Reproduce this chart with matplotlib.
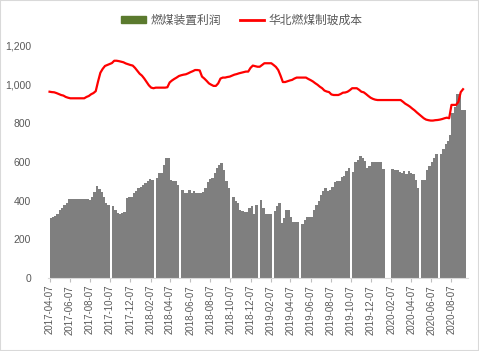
import matplotlib
matplotlib.use("Agg")
import matplotlib.pyplot as plt
import numpy as np
import pandas as pd
from matplotlib.patches import Patch, Rectangle
from matplotlib.lines import Line2D

plt.rcParams['font.family'] = ['Noto Sans CJK SC', 'DejaVu Sans']

# weekly data, first week 2017-04-07
start_date = '2017-04-07'
n_weeks = 180

# 燃煤装置利润 (None = no data that week)
profit = [
    311, 315, 320, 330, 351, 360, 377, 385, 406, 406,
    406, 406, 406, 406, 406, 406, 406, 405, 420, 446,
    475, 460, 445, 420, 389, 377, None, 370, 350, 335,
    333, 335, 340, 415, 418, 420, 440, 450, 463, 470,
    482, 490, 500, 511, 505, None, 518, 541, 541, 584,
    621, 621, 506, 501, 501, 480, None, 455, 437, 440,
    455, 441, 450, 437, 437, 437, 445, 467, 498, 510,
    518, 541, 570, 584, 592, 558, 501, 467, None, 420,
    400, 386, 351, 345, 343, 343, 363, 372, 333, 377,
    None, 403, 360, 329, 329, 329, None, 345, 370, 386,
    282, 311, 351, 351, 316, 291, 291, 291, None, 280,
    300, 313, 315, 316, 350, 375, 400, 429, 450, 463,
    450, 452, 470, 498, 500, 501, 523, 529, 550, 567,
    None, 549, 598, 610, 632, 618, 604, 567, 580, 597,
    600, 601, 601, 601, 563, None, None, None, 561, 560,
    558, 545, 541, 553, 536, 553, 540, 536, 506, 467,
    None, 506, 506, 560, 580, 601, 618, 639, None, 639,
    665, 690, 708, 739, 850, 885, 949, 949, 868, 868,
]

# 华北燃煤制玻成本
cost = [
    962, 960, 959, 955, 950, 945, 942, 935, 931, 928,
    928, 928, 928, 928, 928, 928, 935, 940, 949, 955,
    965, 1015, 1060, 1080, 1095, 1100, 1105, 1110, 1122, 1122,
    1120, 1117, 1114, 1108, 1104, 1100, 1097, 1085, 1070, 1055,
    1045, 1030, 1012, 995, 983, 980, 983, 983, 983, 983,
    983, 985, 1010, 1020, 1028, 1035, 1043, 1047, 1050, 1052,
    1057, 1063, 1068, 1074, 1074, 1072, 1040, 1030, 1018, 1005,
    998, 992, 992, 1005, 1030, 1035, 1035, 1038, 1040, 1045,
    1050, 1053, 1057, 1060, 1063, 1066, 1066, 1085, 1097, 1094,
    1091, 1091, 1100, 1109, 1109, 1109, 1109, 1100, 1090, 1074,
    1045, 1012, 1012, 1016, 1020, 1023, 1030, 1035, 1035, 1035,
    1035, 1035, 1028, 1022, 1015, 1006, 998, 988, 980, 968,
    963, 960, 948, 945, 945, 945, 950, 957, 958, 962,
    970, 980, 980, 980, 972, 962, 959, 950, 940, 931,
    925, 921, 919, 919, 919, 919, 919, 919, 919, 919,
    919, 919, 919, 910, 900, 893, 885, 875, 866, 855,
    845, 835, 825, 818, 815, 813, 813, 815, 816, 818,
    821, 825, 828, 825, 894, 894, 894, 910, 960, 975,
]

tick_labels = [
    '2017-04-07', '2017-06-07', '2017-08-07', '2017-10-07', '2017-12-07',
    '2018-02-07', '2018-04-07', '2018-06-07', '2018-08-07', '2018-10-07',
    '2018-12-07', '2019-02-07', '2019-04-07', '2019-06-07', '2019-08-07',
    '2019-10-07', '2019-12-07', '2020-02-07', '2020-04-07', '2020-06-07',
    '2020-08-07',
]
y_ticks = [0, 200, 400, 600, 800, 1000, 1200]

dates = pd.date_range(start_date, periods=n_weeks, freq='7D')
profit_arr = np.array([np.nan if v is None else v for v in profit], dtype=float)

fig = plt.figure(figsize=(4.79, 3.51), dpi=100)
ax = fig.add_axes([0.100, 0.208, 0.877, 0.662])

ax.bar(dates, profit_arr, width=7.6, align='edge', color='#7F7F7F', linewidth=0)
ax.plot(dates, cost, color='#FF0000', linewidth=1.6, solid_joinstyle='round')

ax.set_ylim(0, 1200)
ax.set_yticks(y_ticks)
ax.set_yticklabels([f'{v:,}' for v in y_ticks], fontsize=7.5, color='#595959',
                   family='Liberation Sans')
ax.tick_params(axis='y', length=0, pad=12)

tick_dates = pd.to_datetime(tick_labels)
ax.set_xticks(tick_dates)
ax.set_xticklabels(tick_labels, rotation=90, fontsize=7, color='#595959',
                   family='Liberation Sans')
ax.tick_params(axis='x', length=3, color='#BFBFBF', pad=2)
ax.set_xlim(pd.Timestamp(start_date) - pd.Timedelta(days=5),
            pd.Timestamp(start_date) + pd.Timedelta(days=1268))

for s in ['top', 'right', 'left']:
    ax.spines[s].set_visible(False)
ax.spines['bottom'].set_color('#D9D9D9')

handles = [Patch(facecolor='#5B7A2E', edgecolor='#5B7A2E'),
           Line2D([0], [0], color='#FF0000', linewidth=2)]
fig.legend(handles, ['燃煤装置利润', '华北燃煤制玻成本'], loc='center',
           bbox_to_anchor=(0.505, 0.943), ncol=2, frameon=False, fontsize=8.5,
           labelcolor='#595959', handlelength=2.1, handleheight=0.55,
           handletextpad=0.35, columnspacing=1.6)

fig.patches.append(Rectangle((0, 0), 1, 1, transform=fig.transFigure,
                             fill=False, edgecolor='#D9D9D9', linewidth=1.5))

fig.savefig('out.png', dpi=100)
